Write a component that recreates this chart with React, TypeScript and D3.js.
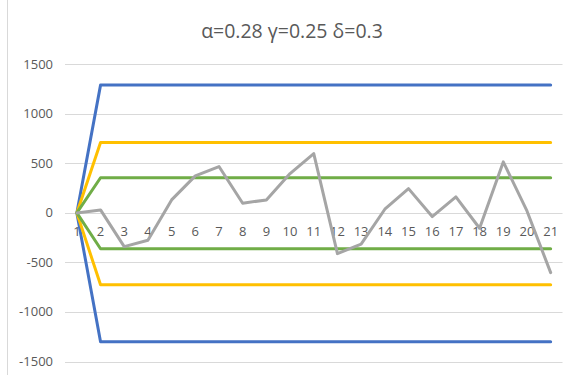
import React from "react";
import * as d3 from "d3";

const categories = Array.from({ length: 21 }, (_, i) => String(i + 1));
const blueUpper = [0, 1290, 1290, 1290, 1290, 1290, 1290, 1290, 1290, 1290, 1290, 1290, 1290, 1290, 1290, 1290, 1290, 1290, 1290, 1290, 1290];
const blueLower = [0, -1300, -1300, -1300, -1300, -1300, -1300, -1300, -1300, -1300, -1300, -1300, -1300, -1300, -1300, -1300, -1300, -1300, -1300, -1300, -1300];
const yellowUpper = [0, 710, 710, 710, 710, 710, 710, 710, 710, 710, 710, 710, 710, 710, 710, 710, 710, 710, 710, 710, 710];
const yellowLower = [0, -725, -725, -725, -725, -725, -725, -725, -725, -725, -725, -725, -725, -725, -725, -725, -725, -725, -725, -725, -725];
const greenUpper = [0, 355, 355, 355, 355, 355, 355, 355, 355, 355, 355, 355, 355, 355, 355, 355, 355, 355, 355, 355, 355];
const greenLower = [0, -362, -362, -362, -362, -362, -362, -362, -362, -362, -362, -362, -362, -362, -362, -362, -362, -362, -362, -362, -362];
const grayValues = [0, 30, -340, -276, 131, 374, 468, 98, 131, 397, 599, -411, -316, 37, 245, -37, 162, -155, 515, 20, -603];
const yTicks = [1500, 1000, 500, 0, -500, -1000, -1500];
const title = "α=0.28 γ=0.25 δ=0.3";

const series = [
  { values: blueUpper, color: "#4472C4" },
  { values: blueLower, color: "#4472C4" },
  { values: yellowUpper, color: "#FFC000" },
  { values: yellowLower, color: "#FFC000" },
  { values: greenUpper, color: "#70AD47" },
  { values: greenLower, color: "#70AD47" },
  { values: grayValues, color: "#A5A5A5" },
];

export default function App() {
  const W = 571;
  const H = 375;
  const x = d3.scaleBand<string>().domain(categories).range([65, 562.5]);
  const y = d3.scaleLinear().domain([-1500, 1500]).range([361.5, 64.3]);
  const cx = (c: string) => (x(c) ?? 0) + x.bandwidth() / 2;
  const line = d3
    .line<number>()
    .x((_, i) => cx(categories[i]))
    .y((d) => y(d));
  const font = "'Open Sans', 'Noto Sans', sans-serif";
  return (
    <svg
      width={W}
      height={H}
      style={{ position: "absolute", left: 0, top: 0, background: "#fff" }}
      fontFamily={font}
    >
      <rect x={0} y={0} width={W} height={H} fill="#fff" />
      <line x1={7.5} x2={7.5} y1={0} y2={H} stroke="#d9d9d9" strokeWidth={1} />
      <text x={292} y={38} textAnchor="middle" fontSize={19.5} fill="#595959">
        {title}
      </text>
      {yTicks.map((t) => (
        <g key={t}>
          <line x1={65} x2={562.5} y1={Math.round(y(t)) + 0.5} y2={Math.round(y(t)) + 0.5} stroke="#d9d9d9" strokeWidth={1} />
          <text x={53} y={y(t) + 4.5} textAnchor="end" fontSize={13} fill="#595959">
            {t}
          </text>
        </g>
      ))}
      {categories.map((c) => (
        <text key={c} x={cx(c)} y={236} textAnchor="middle" fontSize={13} fill="#595959">
          {c}
        </text>
      ))}
      {series.map((s, i) => (
        <path
          key={i}
          d={line(s.values) ?? ""}
          fill="none"
          stroke={s.color}
          strokeWidth={3}
          strokeLinejoin="round"
          strokeLinecap="round"
        />
      ))}
    </svg>
  );
}
